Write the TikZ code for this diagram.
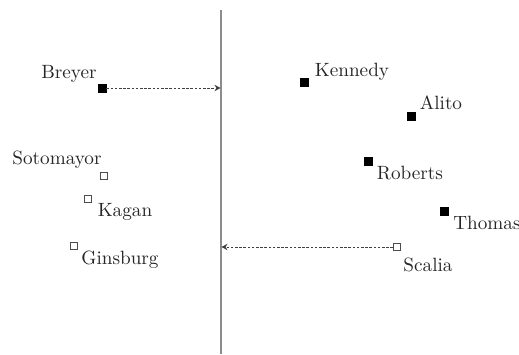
\documentclass[tikz,border=0pt]{standalone}
\usepackage{tikz}
\usetikzlibrary{arrows.meta}

\tikzset{
    voter/.style={draw, fill=black, minimum size=4pt, inner sep=0pt},
    lib/.style={draw=black!70, fill=white, minimum size=3.6pt, inner sep=0pt, line width=0.4pt},
    justice/.style={font=\fontsize{9.6}{11}\selectfont, inner sep=0pt, text=black!85},
    swing/.style={dash pattern=on 1.3pt off 0.8pt, draw=black!75, line width=0.45pt, -{Stealth[length=3pt,width=3.2pt]}}
}

\begin{document}
\begin{tikzpicture}[x=0.5pt, y=-0.5pt]
            \useasboundingbox (0,0) rectangle (519,354);

            % median line
            \coordinate (linetop) at (221,10);
            \coordinate (linebot) at (221,354);
            \draw[black!45, line width=0.6pt] (linetop) -- (linebot);

            \node[voter] (breyer) at (102,88) {};
            \node[voter] (kennedy) at (304,82) {};
            \node[voter] (alito) at (411,116) {};
            \node[voter] (roberts) at (368,161) {};
            \node[voter] (thomas) at (444,211) {};
            \node[lib] (scalia) at (397,247) {};
            \node[lib] (sotomayor) at (104,176) {};
            \node[lib] (kagan) at (88,199) {};
            \node[lib] (ginsburg) at (74,246) {};

            \node[justice] (breyerlbl) at (69,74) {Breyer};
            \node[justice] (kennedylbl) at (352,72) {Kennedy};
            \node[justice] (alitolbl) at (441,103) {Alito};
            \node[justice] (robertslbl) at (410,173) {Roberts};
            \node[justice] (thomaslbl) at (487,223) {Thomas};
            \node[justice] (scalialbl) at (428,265) {Scalia};
            \node[justice] (sotomayorlbl) at (57,160) {Sotomayor};
            \node[justice] (kaganlbl) at (125,212) {Kagan};
            \node[justice] (ginsburglbl) at (120,260) {Ginsburg};

            \coordinate (breyerend) at (220.5,88);
            \coordinate (scaliaend) at (221.5,247);
            \draw[swing] (breyer) -- (breyerend);
            \draw[swing] (scalia) -- (scaliaend);
        \end{tikzpicture}
\end{document}
